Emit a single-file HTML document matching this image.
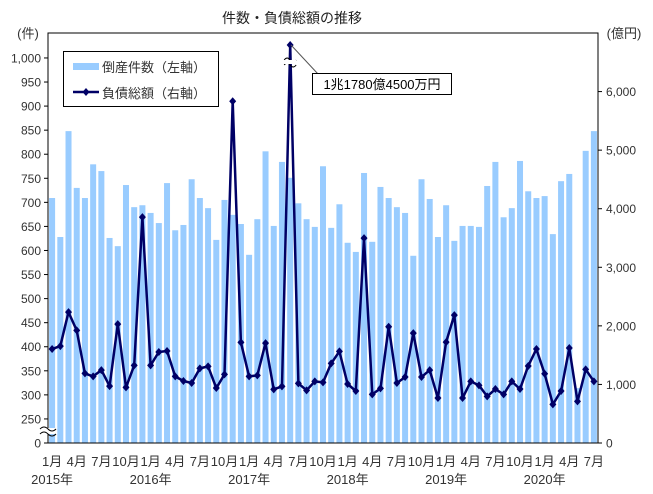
<!DOCTYPE html>
<html><head><meta charset="utf-8"><style>
html,body{margin:0;padding:0;background:#fff;}
svg{display:block;font-family:"Liberation Sans","Noto Sans CJK JP",sans-serif;}
</style></head><body>
<svg id="chart" width="653" height="494" viewBox="0 0 653 494" xmlns="http://www.w3.org/2000/svg">
<text x="292" y="23" font-size="14" text-anchor="middle" fill="#222">件数・負債総額の推移</text>
<text x="28" y="38" font-size="13" text-anchor="middle" fill="#333">(件)</text>
<text x="624" y="38" font-size="13" text-anchor="middle" fill="#333">(億円)</text>
<g id="bars"></g>
<g id="line"></g>
<rect x="48" y="33" width="550" height="410" fill="none" stroke="#000" stroke-width="1"/>
<g id="axes"></g>
<g>
<rect x="63.5" y="51.5" width="155" height="55" fill="#fff" stroke="#000"/>
<rect x="73" y="63" width="26" height="7" fill="#99ccff"/>
<text x="102" y="72" font-size="13" fill="#333">倒産件数（左軸）</text>
<line x1="73" y1="92" x2="99" y2="92" stroke="#000066" stroke-width="2.5"/>
<path d="M86 88 L89.5 92 L86 96 L82.5 92 Z" fill="#000066"/>
<text x="102" y="98" font-size="13" fill="#333">負債総額（右軸）</text>
</g>
<line x1="291" y1="45" x2="318" y2="74" stroke="#555" stroke-width="1"/>
<rect x="312.5" y="73.5" width="139" height="21" fill="#fff" stroke="#000"/>
<text x="382" y="89" font-size="13" text-anchor="middle" fill="#000">1兆1780億4500万円</text>
</svg>
<script>
const months = ["1月","2月","3月","4月","5月","6月","7月","8月","9月","10月","11月","12月"];
const years = ["2015年","2016年","2017年","2018年","2019年","2020年"];
const counts = [709,628,848,730,709,779,765,626,609,736,690,694,678,657,740,642,653,748,709,688,622,705,674,655,591,665,806,651,784,751,698,665,649,775,647,696,616,597,761,618,732,709,690,678,589,748,707,628,694,620,651,651,649,734,784,669,688,786,723,709,713,634,744,759,314,807,848];
const debts = [1604,1655,2235,1922,1189,1137,1245,972,2030,950,1325,3856,1325,1553,1570,1137,1058,1024,1274,1308,938,1172,5835,1717,1137,1154,1706,916,967,11780,1018,899,1052,1035,1359,1564,1007,887,3498,830,933,1985,1024,1126,1877,1126,1245,768,1723,2184,768,1052,984,796,921,830,1052,921,1314,1604,1183,660,887,1621,711,1257,1052];
const leftTicks = [250,300,350,400,450,500,550,600,650,700,750,800,850,900,950,1000];
const rightTicks = [0,1000,2000,3000,4000,5000,6000];

const NS = "http://www.w3.org/2000/svg";
const X0 = 48, X1 = 598, Y0 = 443, YT = 33;
const slot = (X1 - X0) / counts.length;
function xc(i){ return X0 + slot * (i + 0.5); }
function yL(v){ return Y0 - (v - 200) * 0.4813; }
function yR(v){ return Y0 - Math.min(v, 6795) * 0.05857; }
function mk(tag, attrs, parent){ const e = document.createElementNS(NS, tag); for (const k in attrs) e.setAttribute(k, attrs[k]); parent.appendChild(e); return e; }

const gb = document.getElementById('bars');
counts.forEach((v, i) => {
  const r = mk('rect', {x: xc(i) - 3, y: yL(v), width: 6, height: Y0 - yL(v), fill: '#99ccff'}, gb);
  
  
});

const gl = document.getElementById('line');
const pts = debts.map((v, i) => xc(i).toFixed(1) + ',' + yR(v).toFixed(1)).join(' ');
const pl = mk('polyline', {points: pts, fill: 'none', stroke: '#000066', 'stroke-width': 2.5, 'stroke-linejoin': 'round'}, gl);


debts.forEach((v, i) => {
  const x = xc(i), y = yR(v);
  const m = mk('path', {d: `M${x} ${y-4} L${x+3.5} ${y} L${x} ${y+4} L${x-3.5} ${y} Z`, fill: '#000066'}, gl);
  
  
});
// line break mark on the off-scale point
const bi = debts.findIndex(v => v > 7000);
if (bi >= 0) {
  const bx = xc(bi);
  const br = mk('path', {d: `M${bx-6} ${60} q3 -4 6 0 t6 0 M${bx-6} ${65} q3 -4 6 0 t6 0`, fill: 'none', stroke: '#000', 'stroke-width': 1}, gl);
  mk('rect', {x: bx - 6, y: 60, width: 12, height: 4, fill: '#fff'}, gl);
  
  
}

const ga = document.getElementById('axes');
leftTicks.forEach(v => {
  const y = yL(v);
  mk('line', {x1: 44, y1: y, x2: 48, y2: y, stroke: '#000'}, ga);
  const t = mk('text', {x: 41, y: y + 4.5, 'font-size': 12, 'text-anchor': 'end', fill: '#333'}, ga);
  t.textContent = v.toLocaleString('en-US');
  
  
});
const z = mk('text', {x: 41, y: Y0 + 4.5, 'font-size': 12, 'text-anchor': 'end', fill: '#333'}, ga);
z.textContent = '0';


mk('line', {x1: 44, y1: Y0, x2: 48, y2: Y0, stroke: '#000'}, ga);
// axis break on left axis
mk('rect', {x: 40, y: 428, width: 16, height: 6, fill: '#fff'}, ga);
const ab = mk('path', {d: 'M40 429 q4 -4 8 0 t8 0 M40 434 q4 -4 8 0 t8 0', fill: 'none', stroke: '#000'}, ga);



rightTicks.forEach(v => {
  const y = yR(v);
  mk('line', {x1: 598, y1: y, x2: 602, y2: y, stroke: '#000'}, ga);
  const t = mk('text', {x: 606, y: y + 4.5, 'font-size': 12, fill: '#333'}, ga);
  t.textContent = v.toLocaleString('en-US');
  
  
});

counts.forEach((v, i) => {
  if (i % 3 !== 0) return;
  const t = mk('text', {x: xc(i), y: 466, 'font-size': 13, 'text-anchor': 'middle', fill: '#333'}, ga);
  t.textContent = months[i % 12];
  
  
  if (i % 12 === 0) {
    const yt = mk('text', {x: xc(i), y: 484, 'font-size': 13, 'text-anchor': 'middle', fill: '#333'}, ga);
    yt.textContent = years[i / 12];
    
    
  }
});
</script>
</body></html>
